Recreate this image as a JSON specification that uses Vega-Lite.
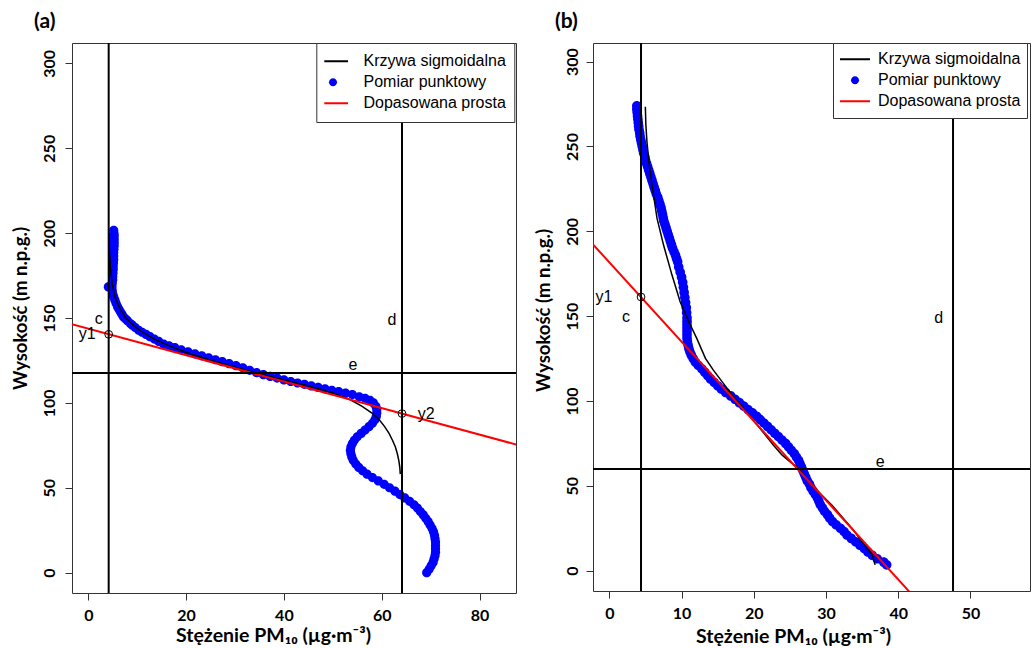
{
  "$schema": "https://vega.github.io/schema/vega-lite/v6.json",
  "padding": {"left": 10, "top": 10, "right": 0, "bottom": 0},
  "spacing": 15,
  "background": "white",
  "datasets": {
    "blueA": [
      {"x":69.2,"y":0},{"x":69.7,"y":2},{"x":70.1,"y":4},{"x":70.5,"y":6},{"x":70.7,"y":8},{"x":70.9,"y":10},{"x":71.0,"y":12},{"x":71.0,"y":14},{"x":71.0,"y":16},{"x":71.0,"y":18},{"x":70.9,"y":20},{"x":70.8,"y":22},{"x":70.6,"y":24},{"x":70.3,"y":26},{"x":69.9,"y":28},{"x":69.5,"y":30},{"x":69.0,"y":32},{"x":68.5,"y":34},{"x":67.9,"y":36},{"x":67.3,"y":38},{"x":66.6,"y":40},{"x":65.7,"y":42},{"x":64.7,"y":44},{"x":63.7,"y":46},{"x":62.7,"y":48},{"x":61.6,"y":50},{"x":60.5,"y":52},{"x":59.3,"y":54},{"x":58.1,"y":56},{"x":57.0,"y":58},{"x":56.1,"y":60},{"x":55.3,"y":62},{"x":54.7,"y":64},{"x":54.2,"y":66},{"x":53.9,"y":68},{"x":53.7,"y":70},{"x":53.6,"y":72},{"x":53.7,"y":74},{"x":54.0,"y":76},{"x":54.4,"y":78},{"x":55.0,"y":80},{"x":55.8,"y":82},{"x":56.6,"y":84},{"x":57.4,"y":86},{"x":58.1,"y":88},{"x":58.6,"y":90},{"x":58.9,"y":92},{"x":59.0,"y":94},{"x":59.0,"y":96},{"x":58.8,"y":98},{"x":58.3,"y":100},{"x":57.6,"y":101.5},{"x":56.6,"y":102.7},{"x":55.4,"y":103.6},
      {"x":54.0,"y":104.9},{"x":52.6,"y":105.7},{"x":51.2,"y":106.6},{"x":49.8,"y":107.4},{"x":48.4,"y":108.3},{"x":47.0,"y":109.1},{"x":45.6,"y":110.0},{"x":44.2,"y":110.9},{"x":42.8,"y":111.7},{"x":41.4,"y":112.6},{"x":40.0,"y":113.5},{"x":38.6,"y":114.6},{"x":37.2,"y":115.6},{"x":35.8,"y":116.6},{"x":34.4,"y":117.8},{"x":33.0,"y":119.2},{"x":31.6,"y":120.7},{"x":30.2,"y":121.9},{"x":28.8,"y":123.1},{"x":27.4,"y":124.3},{"x":26.0,"y":125.4},{"x":24.6,"y":126.6},{"x":23.2,"y":127.7},{"x":21.8,"y":128.9},{"x":20.4,"y":130.1},{"x":19.0,"y":131.3},{"x":17.7,"y":132.5},{"x":16.5,"y":133.6},{"x":15.4,"y":134.6},{"x":14.4,"y":136.2},{"x":13.5,"y":137.6},{"x":12.6,"y":139.0},{"x":11.8,"y":140.3},{"x":11.0,"y":141.6},{"x":10.3,"y":142.8},{"x":9.6,"y":144.4},{"x":9.0,"y":145.8},{"x":8.6,"y":146.7},{"x":8.0,"y":148.4},{"x":7.6,"y":149.5},{"x":7.2,"y":150.6},{"x":6.9,"y":152.1},{"x":6.6,"y":153.5},{"x":6.3,"y":155.0},{"x":6.0,"y":156.5},{"x":5.7,"y":158.5},{"x":5.45,"y":160.5},{"x":5.2,"y":162.4},{"x":5.0,"y":164.3},{"x":4.9,"y":166.3},{"x":4.1,"y":168.3},{"x":4.85,"y":168.5},
      {"x":4.9,"y":170.5},{"x":5.0,"y":172.5},{"x":5.0,"y":174.5},{"x":5.05,"y":176.5},{"x":5.1,"y":178.5},{"x":5.1,"y":180.5},{"x":5.15,"y":182.5},{"x":5.2,"y":184.5},{"x":5.2,"y":186.5},{"x":5.2,"y":188.5},{"x":5.25,"y":190.5},{"x":5.3,"y":192.5},{"x":5.3,"y":194.5},{"x":5.3,"y":196.5},{"x":5.3,"y":198.5},{"x":5.25,"y":200.0},{"x":5.2,"y":201.7}
    ],
    "blackA": [
      {"x":63.8,"y":58},{"x":63.7,"y":62},{"x":63.5,"y":66},{"x":63.2,"y":70},{"x":62.8,"y":74},{"x":62.2,"y":78},{"x":61.5,"y":82},{"x":60.6,"y":86},{"x":59.5,"y":90},{"x":58.0,"y":94},{"x":56.0,"y":98},{"x":53.5,"y":102},{"x":49.8,"y":106},{"x":45.0,"y":110},{"x":39.5,"y":114},{"x":33.8,"y":118},{"x":28.7,"y":122},{"x":24.0,"y":126},{"x":19.8,"y":130},{"x":16.2,"y":134},{"x":13.2,"y":138},{"x":10.9,"y":142},{"x":9.1,"y":146},{"x":7.7,"y":150},{"x":6.4,"y":156},{"x":5.5,"y":162},{"x":4.9,"y":170},{"x":4.5,"y":180},{"x":4.3,"y":190},{"x":4.25,"y":200}
    ],
    "redA": [{"x":-3.4,"y":146.35},{"x":87.5,"y":75.45}],
    "vA": [{"x":4.17},{"x":64.15}],
    "hA": [{"y":117.6}],
    "circA": [{"x":4.17,"y":140.4},{"x":64.15,"y":93.7}],
    "txtA": [{"x":2.13,"y":149.7,"t":"c"},{"x":62.1,"y":148.7,"t":"d"},{"x":54.1,"y":122.2,"t":"e"},{"x":-0.2,"y":140.4,"t":"y1"},{"x":69.1,"y":93.7,"t":"y2"}],
    "blueB": [
      {"x":38.4,"y":3.4},{"x":38.0,"y":5},{"x":37.1,"y":7},{"x":36.4,"y":9},{"x":35.8,"y":11},{"x":35.3,"y":13},{"x":34.7,"y":15},{"x":34.1,"y":17},{"x":33.5,"y":19},{"x":32.9,"y":21},{"x":32.5,"y":23},{"x":32.0,"y":25},{"x":31.4,"y":27},{"x":30.9,"y":29},{"x":30.5,"y":31},{"x":30.2,"y":33},{"x":29.8,"y":35},{"x":29.5,"y":37},{"x":29.2,"y":39},{"x":29.0,"y":41},{"x":28.8,"y":43},{"x":28.5,"y":45},{"x":28.2,"y":47},{"x":27.9,"y":49},{"x":27.7,"y":51},{"x":27.4,"y":53},{"x":27.2,"y":55},{"x":27.0,"y":57},{"x":26.8,"y":59},{"x":26.6,"y":61},{"x":26.4,"y":63},{"x":26.2,"y":65},{"x":25.9,"y":67},{"x":25.6,"y":69},{"x":25.2,"y":71},{"x":24.8,"y":73},{"x":24.4,"y":75},{"x":23.9,"y":77},{"x":23.4,"y":79},{"x":22.9,"y":81},{"x":22.4,"y":83},{"x":21.9,"y":85},{"x":21.4,"y":87},{"x":20.9,"y":89},{"x":20.4,"y":91},{"x":19.8,"y":93},{"x":19.2,"y":95},{"x":18.6,"y":97},{"x":18.0,"y":99},{"x":17.4,"y":101},{"x":16.8,"y":103},{"x":16.1,"y":105},{"x":15.5,"y":107},{"x":15.0,"y":109},{"x":14.5,"y":111},{"x":14.0,"y":113},{"x":13.6,"y":115},{"x":13.2,"y":117},{"x":12.8,"y":119},{"x":12.3,"y":121},{"x":11.9,"y":123},{"x":11.6,"y":125},{"x":11.35,"y":127},{"x":11.15,"y":129},{"x":11.0,"y":131},{"x":10.9,"y":133},{"x":10.8,"y":135},{"x":10.75,"y":137},{"x":10.75,"y":139},{"x":10.75,"y":141},{"x":10.75,"y":143},{"x":10.75,"y":145},{"x":10.75,"y":147},{"x":10.75,"y":149},{"x":10.7,"y":152},{"x":10.65,"y":155},{"x":10.55,"y":158},{"x":10.45,"y":161},{"x":10.35,"y":164},{"x":10.25,"y":167},{"x":10.15,"y":170},{"x":10.0,"y":173},{"x":9.8,"y":176},{"x":9.6,"y":179},{"x":9.45,"y":182},{"x":9.3,"y":184},{"x":9.15,"y":186},{"x":8.95,"y":188},{"x":8.75,"y":190},{"x":8.6,"y":192},{"x":8.45,"y":194},{"x":8.3,"y":196},{"x":8.15,"y":198},{"x":8.0,"y":200},{"x":7.85,"y":202},{"x":7.7,"y":204},{"x":7.55,"y":206},{"x":7.45,"y":208},{"x":7.35,"y":210},{"x":7.25,"y":212},{"x":7.15,"y":214},{"x":7.0,"y":216},{"x":6.85,"y":218},{"x":6.7,"y":220},{"x":6.5,"y":222},{"x":6.35,"y":224},{"x":6.2,"y":226},{"x":6.05,"y":228},{"x":5.9,"y":230},{"x":5.75,"y":232},{"x":5.6,"y":234},{"x":5.45,"y":236},{"x":5.3,"y":238},{"x":5.15,"y":240},{"x":5.0,"y":242},{"x":4.9,"y":244},{"x":4.75,"y":246},{"x":4.65,"y":248},{"x":4.55,"y":250},{"x":4.45,"y":252},{"x":4.35,"y":254},{"x":4.25,"y":256},{"x":4.2,"y":258},{"x":4.1,"y":260},{"x":4.05,"y":262},{"x":4.0,"y":264},{"x":3.95,"y":266},{"x":3.9,"y":268},{"x":3.85,"y":270},{"x":3.8,"y":272},{"x":3.8,"y":274}
    ],
    "blackB": [
      {"x":36.8,"y":3.4},{"x":36.4,"y":9.3},{"x":35.0,"y":17},{"x":33.6,"y":24.9},{"x":32.2,"y":31.8},{"x":30.8,"y":38.7},{"x":29.4,"y":44.6},{"x":28.1,"y":50.5},{"x":27.1,"y":55.4},{"x":26.2,"y":60.3},{"x":25.0,"y":64.3},{"x":23.9,"y":68.2},{"x":22.7,"y":74.1},{"x":21.6,"y":80.0},{"x":19.3,"y":91.8},{"x":17.0,"y":103.5},{"x":15.6,"y":111.4},{"x":14.4,"y":118.2},{"x":13.3,"y":125.1},{"x":12.1,"y":136.9},{"x":11.0,"y":146.7},{"x":9.8,"y":158.5},{"x":8.67,"y":174.2},{"x":7.5,"y":191.9},{"x":6.6,"y":207.6},{"x":5.9,"y":227.3},{"x":5.5,"y":240},{"x":5.2,"y":252.8},{"x":5.05,"y":263},{"x":4.98,"y":273.4}
    ],
    "redB": [{"x":-2.4,"y":192.9},{"x":41.6,"y":-12.7}],
    "vB": [{"x":4.38},{"x":47.59}],
    "hB": [{"y":59.9}],
    "circB": [{"x":4.38,"y":161.3}],
    "txtB": [{"x":-0.75,"y":161.5,"t":"y1"},{"x":2.3,"y":149.7,"t":"c"},{"x":45.6,"y":148.7,"t":"d"},{"x":37.5,"y":64.2,"t":"e"}]
  },
  "hconcat": [
    {
      "width": 444,
      "height": 550,
      "title": {"text": "(a)", "anchor": "start", "frame": "group", "dx": -38, "offset": -7, "fontSize": 21, "font": "Lato", "fontWeight": "bold", "color": "black", "baseline": "alphabetic"},
      "layer": [
        {
          "data": {"name": "blueA"},
          "transform": [{"calculate": "'Pomiar punktowy'", "as": "s"}],
          "mark": {"type": "point", "filled": true, "size": 1183, "opacity": 1, "strokeWidth": 0},
          "encoding": {
            "x": {"field": "x", "type": "quantitative", "scale": {"domain": [-3.33, 87.46], "nice": false, "zero": false},
                  "axis": {"values": [0, 20, 40, 60, 80], "title": "Stężenie PM₁₀ (µg·m⁻³)", "titleFontSize": 19.5, "titleX": 201, "titleY": 48, "titleAlign": "center", "titleBaseline": "alphabetic", "labelPadding": 7}},
            "y": {"field": "y", "type": "quantitative", "scale": {"domain": [-12, 312], "nice": false, "zero": false},
                  "axis": {"values": [0, 50, 100, 150, 200, 250, 300], "title": "Wysokość (m n.p.g.)", "titleFontSize": 18.5, "titleY": 265, "labelAngle": -90, "labelAlign": "center", "labelBaseline": "alphabetic", "labelPadding": 11, "titlePadding": 11}},
            "color": {"field": "s", "type": "nominal",
                      "scale": {"domain": ["Krzywa sigmoidalna", "Pomiar punktowy", "Dopasowana prosta"], "range": ["black", "blue", "red"]},
                      "legend": {"orient": "none", "legendX": 244.3, "legendY": 0, "title": null, "padding": 8, "strokeColor": "#333", "fillColor": "white",
                                 "symbolSize": 900, "symbolStrokeWidth": 0, "clipHeight": 20.5, "rowPadding": 0, "symbolOffset": -6.3, "labelOffset": 15.5,
                                 "labelFont": "Liberation Sans", "labelFontSize": 16, "labelColor": "black", "labelLimit": 400}},
            "shape": {"field": "s", "type": "nominal",
                      "scale": {"domain": ["Krzywa sigmoidalna", "Pomiar punktowy", "Dopasowana prosta"],
                                "range": ["M-1,-0.067L1,-0.067L1,0.067L-1,0.067Z", "M-0.267,0A0.267,0.267 0 1,0 0.267,0A0.267,0.267 0 1,0 -0.267,0Z", "M-1,-0.067L1,-0.067L1,0.067L-1,0.067Z"]},
                      "legend": {"orient": "none", "legendX": 244.3, "legendY": 0, "title": null, "padding": 8, "strokeColor": "#333", "fillColor": "white",
                                 "symbolSize": 900, "symbolStrokeWidth": 0, "clipHeight": 20.5, "rowPadding": 0, "symbolOffset": -6.3, "labelOffset": 15.5,
                                 "labelFont": "Liberation Sans", "labelFontSize": 16, "labelColor": "black", "labelLimit": 400}}
          }
        },
        {
          "data": {"name": "blackA"},
          "transform": [{"calculate": "'Krzywa sigmoidalna'", "as": "s"}],
          "mark": {"type": "line", "strokeWidth": 1.5, "clip": true},
          "encoding": {
            "x": {"field": "x", "type": "quantitative", "scale": {"domain": [-3.33, 87.46], "nice": false, "zero": false}},
            "y": {"field": "y", "type": "quantitative", "scale": {"domain": [-12, 312], "nice": false, "zero": false}},
            "order": {"field": "y", "type": "quantitative"},
            "color": {"field": "s", "type": "nominal", "scale": {"domain": ["Krzywa sigmoidalna", "Pomiar punktowy", "Dopasowana prosta"], "range": ["black", "blue", "red"]}}
          }
        },
        {
          "data": {"name": "redA"},
          "transform": [{"calculate": "'Dopasowana prosta'", "as": "s"}],
          "mark": {"type": "line", "strokeWidth": 2, "clip": true},
          "encoding": {
            "x": {"field": "x", "type": "quantitative", "scale": {"domain": [-3.33, 87.46], "nice": false, "zero": false}},
            "y": {"field": "y", "type": "quantitative", "scale": {"domain": [-12, 312], "nice": false, "zero": false}},
            "color": {"field": "s", "type": "nominal", "scale": {"domain": ["Krzywa sigmoidalna", "Pomiar punktowy", "Dopasowana prosta"], "range": ["black", "blue", "red"]}}
          }
        },
        {
          "data": {"name": "vA"},
          "mark": {"type": "rule", "color": "black", "strokeWidth": 2},
          "encoding": {
            "x": {"field": "x", "type": "quantitative", "scale": {"domain": [-3.33, 87.46], "nice": false, "zero": false}}
          }
        },
        {
          "data": {"name": "hA"},
          "mark": {"type": "rule", "color": "black", "strokeWidth": 2},
          "encoding": {
            "y": {"field": "y", "type": "quantitative", "scale": {"domain": [-12, 312], "nice": false, "zero": false}}
          }
        },
        {
          "data": {"name": "circA"},
          "mark": {"type": "point", "shape": "circle", "filled": false, "size": 60, "color": "black", "strokeWidth": 1, "opacity": 1},
          "encoding": {
            "x": {"field": "x", "type": "quantitative", "scale": {"domain": [-3.33, 87.46], "nice": false, "zero": false}},
            "y": {"field": "y", "type": "quantitative", "scale": {"domain": [-12, 312], "nice": false, "zero": false}}
          }
        },
        {
          "data": {"name": "txtA"},
          "mark": {"type": "text", "font": "Liberation Sans", "fontSize": 16, "color": "black", "align": "center", "baseline": "middle"},
          "encoding": {
            "x": {"field": "x", "type": "quantitative", "scale": {"domain": [-3.33, 87.46], "nice": false, "zero": false}},
            "y": {"field": "y", "type": "quantitative", "scale": {"domain": [-12, 312], "nice": false, "zero": false}},
            "text": {"field": "t"}
          }
        }
      ]
    },
    {
      "width": 437,
      "height": 548,
      "title": {"text": "(b)", "anchor": "start", "frame": "group", "dx": -38, "offset": -7, "fontSize": 21, "font": "Lato", "fontWeight": "bold", "color": "black", "baseline": "alphabetic"},
      "layer": [
        {
          "data": {"name": "blueB"},
          "transform": [{"calculate": "'Pomiar punktowy'", "as": "s"}],
          "mark": {"type": "point", "filled": true, "size": 1296, "opacity": 1, "strokeWidth": 0},
          "encoding": {
            "x": {"field": "x", "type": "quantitative", "scale": {"domain": [-2.27, 58.25], "nice": false, "zero": false},
                  "axis": {"values": [0, 10, 20, 30, 40, 50], "title": "Stężenie PM₁₀ (µg·m⁻³)", "titleFontSize": 19.5, "titleX": 200, "titleY": 51, "titleAlign": "center", "titleBaseline": "alphabetic", "labelPadding": 7}},
            "y": {"field": "y", "type": "quantitative", "scale": {"domain": [-12, 311], "nice": false, "zero": false},
                  "axis": {"values": [0, 50, 100, 150, 200, 250, 300], "title": "Wysokość (m n.p.g.)", "titleFontSize": 18.5, "titleY": 267, "labelAngle": -90, "labelAlign": "center", "labelBaseline": "alphabetic", "labelPadding": 9, "titlePadding": 11}},
            "color": {"field": "s", "type": "nominal",
                      "scale": {"domain": ["Krzywa sigmoidalna", "Pomiar punktowy", "Dopasowana prosta"], "range": ["black", "blue", "red"]},
                      "legend": {"orient": "none", "legendX": 240, "legendY": 0, "title": null, "padding": 6, "strokeColor": "#333", "fillColor": "white",
                                 "symbolSize": 900, "symbolStrokeWidth": 0, "clipHeight": 20.5, "rowPadding": 0, "symbolOffset": 1, "labelOffset": 8,
                                 "labelFont": "Liberation Sans", "labelFontSize": 16, "labelColor": "black", "labelLimit": 400}},
            "shape": {"field": "s", "type": "nominal",
                      "scale": {"domain": ["Krzywa sigmoidalna", "Pomiar punktowy", "Dopasowana prosta"],
                                "range": ["M-1,-0.067L1,-0.067L1,0.067L-1,0.067Z", "M-0.267,0A0.267,0.267 0 1,0 0.267,0A0.267,0.267 0 1,0 -0.267,0Z", "M-1,-0.067L1,-0.067L1,0.067L-1,0.067Z"]},
                      "legend": {"orient": "none", "legendX": 240, "legendY": 0, "title": null, "padding": 6, "strokeColor": "#333", "fillColor": "white",
                                 "symbolSize": 900, "symbolStrokeWidth": 0, "clipHeight": 20.5, "rowPadding": 0, "symbolOffset": 1, "labelOffset": 8,
                                 "labelFont": "Liberation Sans", "labelFontSize": 16, "labelColor": "black", "labelLimit": 400}}
          }
        },
        {
          "data": {"name": "blackB"},
          "transform": [{"calculate": "'Krzywa sigmoidalna'", "as": "s"}],
          "mark": {"type": "line", "strokeWidth": 1.5, "clip": true},
          "encoding": {
            "x": {"field": "x", "type": "quantitative", "scale": {"domain": [-2.27, 58.25], "nice": false, "zero": false}},
            "y": {"field": "y", "type": "quantitative", "scale": {"domain": [-12, 311], "nice": false, "zero": false}},
            "order": {"field": "y", "type": "quantitative"},
            "color": {"field": "s", "type": "nominal", "scale": {"domain": ["Krzywa sigmoidalna", "Pomiar punktowy", "Dopasowana prosta"], "range": ["black", "blue", "red"]}}
          }
        },
        {
          "data": {"name": "redB"},
          "transform": [{"calculate": "'Dopasowana prosta'", "as": "s"}],
          "mark": {"type": "line", "strokeWidth": 2, "clip": true},
          "encoding": {
            "x": {"field": "x", "type": "quantitative", "scale": {"domain": [-2.27, 58.25], "nice": false, "zero": false}},
            "y": {"field": "y", "type": "quantitative", "scale": {"domain": [-12, 311], "nice": false, "zero": false}},
            "color": {"field": "s", "type": "nominal", "scale": {"domain": ["Krzywa sigmoidalna", "Pomiar punktowy", "Dopasowana prosta"], "range": ["black", "blue", "red"]}}
          }
        },
        {
          "data": {"name": "vB"},
          "mark": {"type": "rule", "color": "black", "strokeWidth": 2},
          "encoding": {
            "x": {"field": "x", "type": "quantitative", "scale": {"domain": [-2.27, 58.25], "nice": false, "zero": false}}
          }
        },
        {
          "data": {"name": "hB"},
          "mark": {"type": "rule", "color": "black", "strokeWidth": 2},
          "encoding": {
            "y": {"field": "y", "type": "quantitative", "scale": {"domain": [-12, 311], "nice": false, "zero": false}}
          }
        },
        {
          "data": {"name": "circB"},
          "mark": {"type": "point", "shape": "circle", "filled": false, "size": 60, "color": "black", "strokeWidth": 1, "opacity": 1},
          "encoding": {
            "x": {"field": "x", "type": "quantitative", "scale": {"domain": [-2.27, 58.25], "nice": false, "zero": false}},
            "y": {"field": "y", "type": "quantitative", "scale": {"domain": [-12, 311], "nice": false, "zero": false}}
          }
        },
        {
          "data": {"name": "txtB"},
          "mark": {"type": "text", "font": "Liberation Sans", "fontSize": 16, "color": "black", "align": "center", "baseline": "middle"},
          "encoding": {
            "x": {"field": "x", "type": "quantitative", "scale": {"domain": [-2.27, 58.25], "nice": false, "zero": false}},
            "y": {"field": "y", "type": "quantitative", "scale": {"domain": [-12, 311], "nice": false, "zero": false}},
            "text": {"field": "t"}
          }
        }
      ]
    }
  ],
  "resolve": {"scale": {"color": "independent", "shape": "independent", "x": "independent", "y": "independent"}, "legend": {"color": "independent", "shape": "independent"}},
  "config": {
    "view": {"stroke": "#333", "strokeWidth": 1},
    "axis": {"grid": false, "domain": false, "tickColor": "#333", "tickSize": 7, "tickWidth": 1,
             "labelFont": "Lato", "labelFontSize": 16, "labelFontWeight": "bold", "labelColor": "black",
             "titleFont": "Lato", "titleFontSize": 17, "titleFontWeight": "bold", "titleColor": "black",
             "labelOverlap": false, "labelFlush": false}
  }
}
